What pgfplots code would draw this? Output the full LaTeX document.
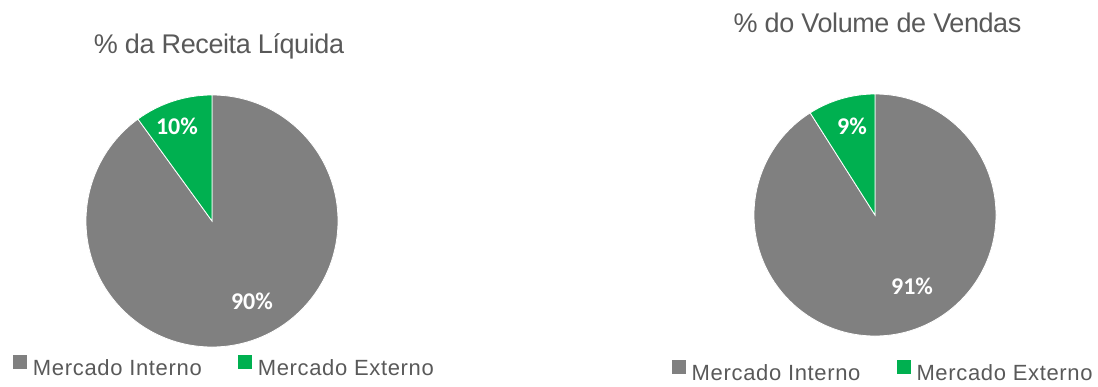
\documentclass[border=0pt]{standalone}
\usepackage{pgfplots}
\pgfplotsset{compat=1.18}
\usepackage{pgfplotstable}
\usepackage{fontspec}
\setmainfont{Liberation Sans}
\newfontfamily\legfam[LetterSpace=3]{Liberation Sans}
\newfontfamily\titfam[LetterSpace=-1.5]{Liberation Sans}
\newfontfamily\calibri{Carlito}
\newcommand\legfont{\legfam\fontsize{22bp}{26bp}\selectfont}
\newcommand\titfont{\titfam\fontsize{27bp}{32bp}\selectfont}
\newcommand\pctfont{\calibri\bfseries\fontsize{24bp}{28bp}\selectfont}
\definecolor{pgray}{HTML}{808080}
\definecolor{pgreen}{HTML}{00B050}
\definecolor{tgray}{HTML}{595959}

\pgfplotstableread{
mercado valor
Interno 90
Externo 10
}\receita
\pgfplotstableread{
mercado valor
Interno 91
Externo 9
}\volume

\pgfplotsset{
  piestyle/.style={
    hide axis, scale only axis, clip=false,
    xmin=-1, xmax=1, ymin=-1, ymax=1,
    legend columns=2,
    legend cell align=left,
    legend image code/.code={\fill[##1] (0bp,0bp) rectangle (14bp,14bp);},
    legend style={draw=none, fill=none, inner sep=0pt, outer sep=0pt,
      anchor=south west, font=\legfont, text=tgray,
      nodes={inner sep=0pt, outer sep=0pt},
      /tikz/every odd column/.append style={column sep=6bp},
      /tikz/every even column/.append style={column sep=36bp}},
  }
}

\begin{document}
\begin{tikzpicture}[x=1bp,y=1bp]
\useasboundingbox (0,0) rectangle (1098,386);
\coordinate (cL) at (212,165);
\coordinate (cR) at (875,171);
\pgfplotstablegetelem{0}{valor}\of\receita \edef\recInt{\pgfplotsretval}
\pgfplotstablegetelem{1}{valor}\of\receita \edef\recExt{\pgfplotsretval}
\pgfplotstablegetelem{0}{valor}\of\volume \edef\volInt{\pgfplotsretval}
\pgfplotstablegetelem{1}{valor}\of\volume \edef\volExt{\pgfplotsretval}

% ---------- left pie: % da Receita Liquida ----------
\begin{axis}[piestyle, at={(cL)}, anchor=center,
  width=252bp, height=252bp,
  legend style={at={(-0.2897,-0.1202)}}]
  \addlegendimage{fill=pgray, draw=none}
  \addlegendentry{Mercado Interno}
  \addlegendimage{fill=pgreen, draw=none}
  \addlegendentry{Mercado Externo}
  \fill[pgray, draw=white, line width=0.8bp] (axis cs:0,0) -- (axis cs:0,1)
     arc[start angle=90, delta angle={-3.6*\recInt}, radius=126bp] -- cycle;
  \fill[pgreen, draw=white, line width=0.8bp] (axis cs:0,0) -- (axis cs:0,1)
     arc[start angle=90, delta angle={3.6*\recExt}, radius=126bp] -- cycle;
  \node[text=white, font=\pctfont] at (axis cs:-0.278,0.754) {\recExt\%};
  \node[text=white, font=\pctfont] at (axis cs:0.317,-0.635) {\recInt\%};
\end{axis}
\node[anchor=base, text=tgray, font=\titfont] at (219,333) {\% da Receita Líquida};

% ---------- right pie: % do Volume de Vendas ----------
\begin{axis}[piestyle, at={(cR)}, anchor=center,
  width=242bp, height=242bp,
  legend style={at={(-0.340,-0.1913)}}]
  \addlegendimage{fill=pgray, draw=none}
  \addlegendentry{Mercado Interno}
  \addlegendimage{fill=pgreen, draw=none}
  \addlegendentry{Mercado Externo}
  \fill[pgray, draw=white, line width=0.8bp] (axis cs:0,0) -- (axis cs:0,1)
     arc[start angle=90, delta angle={-3.6*\volInt}, radius=121bp] -- cycle;
  \fill[pgreen, draw=white, line width=0.8bp] (axis cs:0,0) -- (axis cs:0,1)
     arc[start angle=90, delta angle={3.6*\volExt}, radius=121bp] -- cycle;
  \node[text=white, font=\pctfont] at (axis cs:-0.19,0.736) {\volExt\%};
  \node[text=white, font=\pctfont] at (axis cs:0.306,-0.587) {\volInt\%};
\end{axis}
\node[anchor=base, text=tgray, font=\titfont] at (877.5,354) {\% do Volume de Vendas};
\end{tikzpicture}
\end{document}
